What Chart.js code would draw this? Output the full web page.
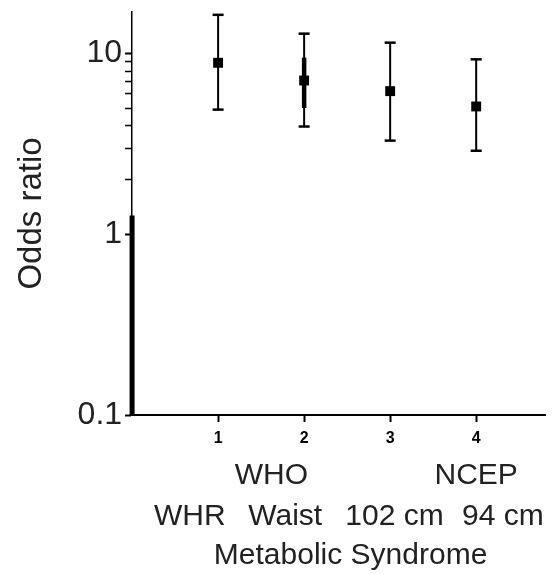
<!DOCTYPE html>
<html>
<head>
<meta charset="utf-8">
<script src="https://cdn.jsdelivr.net/npm/chart.js@4/dist/chart.umd.min.js"></script>
<style>
  html, body { margin: 0; padding: 0; background: #fff; }
  #wrap { width: 553px; height: 574px; }
</style>
</head>
<body>
<div id="wrap"><canvas id="orChart"></canvas></div>
<script>
// odds ratios with 95% CI
const categories = [1, 2, 3, 4];
const oddsRatio = [8.9, 7.1, 6.2, 5.1];
const ciLow = [4.9, 3.95, 3.3, 2.9];
const ciHigh = [16.4, 12.9, 11.5, 9.3];

// heavy stroke on lower part of the y axis and round the 2nd estimate
const axisStroke = [0.1, 1.27];
const thickSegment2 = [5.0, 9.5];

// axis ticks
const yTicks = [0.1, 1, 2, 3, 4, 5, 6, 7, 8, 9, 10];
const yTickLabels = ['0.1', '1', '10'];

// text below the x axis
const groupLabels = ['WHO', 'NCEP'];
const groupAt = [1.62, 4];
const subLabels = ['WHR', 'Waist', '102 cm', '94 cm'];
const subAt = [0.67, 1.78, 3.05, 4.31];
const xTitle = ['Metabolic Syndrome'];
const xTitleAt = [2.54];

const ink = '#000';
const textInk = '#222';
const face = "'Liberation Sans', Arial, sans-serif";

// one small line dataset per error bar, caps drawn as 'line' points
const errorBars = categories.map((c, i) => ({
  type: 'line',
  data: [{ x: c, y: ciLow[i] }, { x: c, y: ciHigh[i] }],
  borderColor: ink,
  borderWidth: 2,
  pointStyle: 'line',
  pointRadius: 5.5,
  pointBorderWidth: 2.5,
  pointBorderColor: ink
}));

const datasets = [
  {
    type: 'line',
    data: axisStroke.map(v => ({ x: 0, y: v })),
    borderColor: ink,
    borderWidth: 5,
    pointRadius: 0,
    clip: false
  },
  ...errorBars,
  {
    type: 'line',
    data: thickSegment2.map(v => ({ x: categories[1], y: v })),
    borderColor: ink,
    borderWidth: 4.5,
    pointRadius: 0
  },
  {
    type: 'scatter',
    data: categories.map((c, i) => ({ x: c, y: oddsRatio[i] })),
    pointStyle: 'rect',
    pointRadius: 7,
    backgroundColor: ink,
    borderColor: ink,
    borderWidth: 0
  }
];

// extra bottom axes that only carry text rows
const textAxis = (at, labels, pad) => ({
  type: 'linear',
  position: 'bottom',
  min: 0,
  max: 4.8,
  afterBuildTicks: s => { s.ticks = at.map(v => ({ value: v })); },
  grid: { display: false, drawTicks: false, tickLength: 0 },
  border: { display: false },
  ticks: {
    autoSkip: false,
    maxRotation: 0,
    padding: pad,
    color: textInk,
    font: { family: face, size: 30, lineHeight: 1 },
    callback: (v, i) => labels[i]
  }
});

const ctx = document.getElementById('orChart').getContext('2d');
new Chart(ctx, {
  type: 'scatter',
  data: { datasets: datasets },
  options: {
    responsive: true,
    maintainAspectRatio: false,
    animation: false,
    layout: { padding: { top: 12, right: 5, bottom: 0, left: 0 } },
    plugins: {
      legend: { display: false },
      tooltip: { enabled: false }
    },
    scales: {
      x: {
        type: 'linear',
        position: 'bottom',
        min: 0,
        max: 4.8,
        afterBuildTicks: s => { s.ticks = categories.map(v => ({ value: v })); },
        grid: { drawOnChartArea: false, tickLength: 7, tickColor: ink, tickWidth: 2 },
        border: { color: ink, width: 2 },
        ticks: {
          autoSkip: false,
          maxRotation: 0,
          padding: 7.4,
          color: ink,
          font: { family: face, size: 16, weight: 'bold' }
        }
      },
      x2: textAxis(groupAt, groupLabels, 5),
      x3: textAxis(subAt, subLabels, 6),
      x4: textAxis(xTitleAt, xTitle, 3),
      y: {
        type: 'logarithmic',
        min: 0.1,
        max: 17,
        afterBuildTicks: s => { s.ticks = yTicks.map(v => ({ value: v })); },
        grid: {
          drawOnChartArea: false,
          tickLength: 7,
          tickColor: ink,
          tickWidth: c => (yTickLabels.includes(String(c.tick.value)) ? 2 : 1.5)
        },
        border: { color: ink, width: 1.5 },
        ticks: {
          autoSkip: false,
          padding: 3,
          color: textInk,
          font: { family: face, size: 32, lineHeight: 0.5 },
          callback: v => (yTickLabels.includes(String(v)) ? String(v) : '')
        },
        title: {
          display: true,
          text: 'Odds ratio',
          color: textInk,
          font: { family: face, size: 33 },
          padding: { top: 12, bottom: 23 }
        }
      }
    }
  }
});
</script>
</body>
</html>
